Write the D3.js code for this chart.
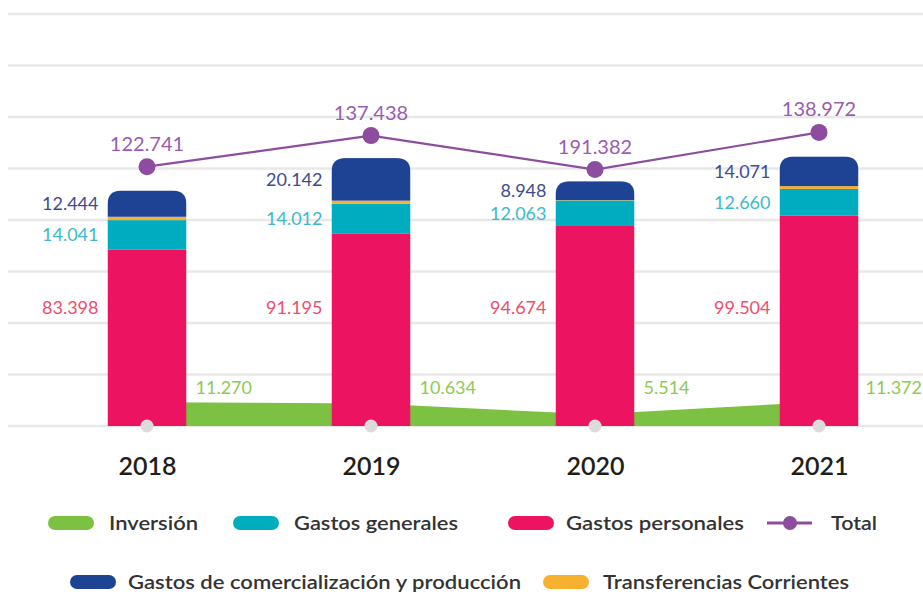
<!DOCTYPE html>
<html><head><meta charset="utf-8">
<script src="https://cdn.jsdelivr.net/npm/d3@7"></script>
<style>
html,body{margin:0;padding:0;background:#fff;}
svg{display:block;font-family:Lato,"Open Sans",sans-serif;}
</style></head>
<body><svg id="chart" width="923" height="594"></svg>
<script>
// ---- data ----
const years = ["2018", "2019", "2020", "2021"];
const gastosPersonales = [83.398, 91.195, 94.674, 99.504];
const gastosGenerales = [14.041, 14.012, 12.063, 12.660];
const transferencias = [1.588, 1.455, 0.183, 1.365];
const gastosComercializacion = [12.444, 20.142, 8.948, 14.071];
const inversion = [11.270, 10.634, 5.514, 11.372];
const totals = [122.741, 137.438, 121.382, 138.972];
const totalLabels = ["122.741", "137.438", "191.382", "138.972"];
const fmt = v => d3.format(".3f")(v);

const seriesNames = ["Gastos personales", "Gastos generales", "Transferencias Corrientes", "Gastos de comercialización y producción"];
const seriesValues = [gastosPersonales, gastosGenerales, transferencias, gastosComercializacion];
const colors = {
  "Inversión": "#7cc142",
  "Gastos generales": "#00acbf",
  "Gastos personales": "#ec1461",
  "Total": "#8e4c9f",
  "Gastos de comercialización y producción": "#1f4394",
  "Transferencias Corrientes": "#f8b031"
};
const labelColors = {
  "Gastos personales": "#ee4d6c",
  "Gastos generales": "#3bbacb",
  "Gastos de comercialización y producción": "#3e4b92",
  "Inversión": "#8ec955",
  "Total": "#9a5cb0"
};

const svg = d3.select("#chart");
const W = 923, H = 594;
const baseY = 426, topY = 14;
const yMax = 195;
const y = d3.scaleLinear().domain([0, yMax]).range([baseY, topY]);
const x = d3.scalePoint().domain(years).range([147, 819]);
const barW = 79, radius = 14;

// gridlines
const gridVals = d3.range(9).map(i => i * yMax / 8);
svg.append("g").selectAll("line").data(gridVals).join("line")
  .attr("x1", 8).attr("x2", W)
  .attr("y1", d => y(d)).attr("y2", d => y(d))
  .attr("stroke", "#e8e8e8").attr("stroke-width", 2.5);

// stack data
const table = years.map((yr, i) => {
  const o = { year: yr };
  seriesNames.forEach((s, k) => o[s] = seriesValues[k][i]);
  return o;
});
const stack = d3.stack().keys(seriesNames)(table);

// inversion area (behind bars)
const invData = years.map((yr, i) => ({ year: yr, v: inversion[i] }));
svg.append("path").datum(invData)
  .attr("fill", colors["Inversión"])
  .attr("d", d3.area().x(d => x(d.year)).y0(y(0)).y1(d => y(d.v)));

// bars with rounded tops via clip paths
const defs = svg.append("defs");
years.forEach((yr, i) => {
  const top = y(stack[stack.length - 1][i][1]);
  const x0 = x(yr) - barW / 2, x1 = x(yr) + barW / 2, b = y(0);
  defs.append("clipPath").attr("id", "clip" + i).append("path")
    .attr("d", `M${x0},${b} L${x0},${top + radius} Q${x0},${top} ${x0 + radius},${top} L${x1 - radius},${top} Q${x1},${top} ${x1},${top + radius} L${x1},${b} Z`);
});
const barsG = svg.append("g");
years.forEach((yr, i) => {
  const g = barsG.append("g").attr("clip-path", `url(#clip${i})`);
  stack.forEach(layer => {
    const d = layer[i];
    g.append("rect")
      .attr("x", x(yr) - barW / 2).attr("width", barW)
      .attr("y", y(d[1])).attr("height", y(d[0]) - y(d[1]))
      .attr("fill", colors[layer.key]);
  });
});

// baseline gray dots
svg.append("g").selectAll("circle").data(years).join("circle")
  .attr("cx", d => x(d)).attr("cy", baseY).attr("r", 6.5).attr("fill", "#dcdcdc");

// segment labels (left of bars)
const lblG = svg.append("g").attr("font-size", 18).attr("text-anchor", "end");
const pinkLabelY = y(56);
years.forEach((yr, i) => {
  const lx = x(yr) - barW / 2 - 9;
  stack.forEach(layer => {
    if (layer.key === "Transferencias Corrientes") return;
    const d = layer[i];
    const ly = layer.key === "Gastos personales" ? pinkLabelY : (y(d[0]) + y(d[1])) / 2;
    lblG.append("text").attr("x", lx).attr("y", ly).attr("dy", "0.35em")
      .attr("fill", labelColors[layer.key]).text(fmt(d.data[layer.key]));
  });
});

// inversion labels (right of bars), kept inside the canvas
svg.append("g").attr("font-size", 18).selectAll("text").data(invData).join("text")
  .attr("x", d => x(d.year) + barW / 2 + 9).attr("y", y(18)).attr("dy", "0.35em")
  .attr("fill", labelColors["Inversión"]).text(d => fmt(d.v))
  .each(function() {
    const t = d3.select(this);
    const w = this.getComputedTextLength();
    const x0 = +t.attr("x");
    if (x0 + w > W - 1) t.attr("x", W - 1 - w);
  });

// total line
const totData = years.map((yr, i) => ({ year: yr, v: totals[i], label: totalLabels[i] }));
svg.append("path").datum(totData)
  .attr("fill", "none").attr("stroke", colors["Total"]).attr("stroke-width", 2.2)
  .attr("d", d3.line().x(d => x(d.year)).y(d => y(d.v)));
svg.append("g").selectAll("circle").data(totData).join("circle")
  .attr("cx", d => x(d.year)).attr("cy", d => y(d.v)).attr("r", 8.5).attr("fill", colors["Total"]);
svg.append("g").attr("font-size", 20).attr("text-anchor", "middle").selectAll("text").data(totData).join("text")
  .attr("x", d => x(d.year)).attr("y", d => y(d.v) - 23).attr("dy", "0.35em")
  .attr("fill", labelColors["Total"]).text(d => d.label);

// x axis labels
const xAxis = d3.axisBottom(x).tickSize(0).tickPadding(0);
const axG = svg.append("g").attr("transform", `translate(0,${baseY + 40})`).call(xAxis);
axG.select(".domain").remove();
axG.selectAll("text").attr("font-size", 25).attr("font-weight", 600)
  .attr("font-family", "Lato, sans-serif").attr("fill", "#1e1e1e").attr("dy", "0.35em");

// legend
const legendItems = [
  { name: "Inversión", sx: 48, tx: 109, y: 523, w: 89 },
  { name: "Gastos generales", sx: 233, tx: 294, y: 523, w: 164 },
  { name: "Gastos personales", sx: 508, tx: 566, y: 523, w: 178 },
  { name: "Total", sx: 767, tx: 831, y: 523, w: 46, line: true },
  { name: "Gastos de comercialización y producción", sx: 70, tx: 128, y: 582, w: 393 },
  { name: "Transferencias Corrientes", sx: 543, tx: 603, y: 582, w: 246 }
];
const lg = svg.append("g");
legendItems.forEach(it => {
  if (it.line) {
    lg.append("line").attr("x1", it.sx).attr("x2", it.sx + 45).attr("y1", it.y).attr("y2", it.y)
      .attr("stroke", colors[it.name]).attr("stroke-width", 3);
    lg.append("circle").attr("cx", it.sx + 23).attr("cy", it.y).attr("r", 7).attr("fill", colors[it.name]);
  } else {
    lg.append("rect").attr("x", it.sx).attr("y", it.y - 7).attr("width", 46).attr("height", 14)
      .attr("rx", 7).attr("fill", colors[it.name]);
  }
  lg.append("text").attr("x", it.tx).attr("y", it.y).attr("dy", "0.35em")
    .attr("font-size", 20).attr("font-weight", 600).attr("fill", "#333")
    .attr("textLength", it.w).attr("lengthAdjust", "spacingAndGlyphs")
    .text(it.name);
});
</script>
</body></html>
